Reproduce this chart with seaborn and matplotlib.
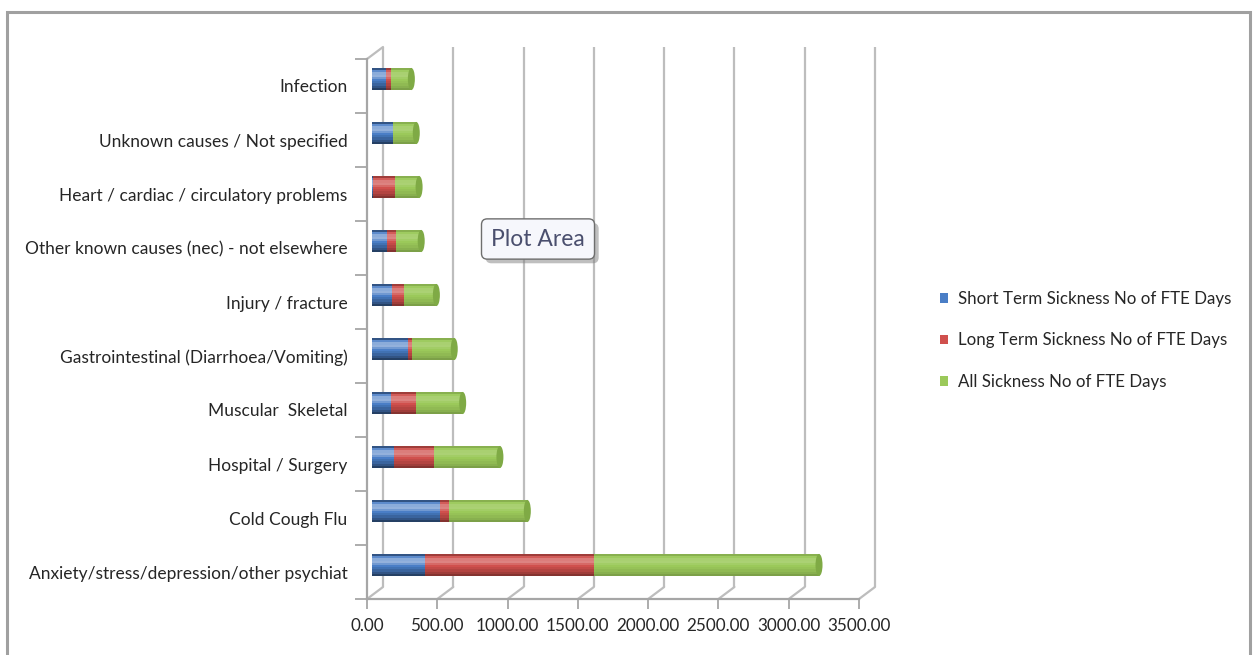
import matplotlib

matplotlib.use("Agg")
import matplotlib.pyplot as plt
from matplotlib import patheffects, transforms
from matplotlib.patches import Ellipse, Patch, Rectangle
import pandas as pd
import seaborn as sns


# ======================== データ ========================
CATEGORIES = [
    "Infection",
    "Unknown causes / Not specified",
    "Heart / cardiac / circulatory problems",
    "Other known causes (nec) - not elsewhere",
    "Injury / fracture",
    "Gastrointestinal (Diarrhoea/Vomiting)",
    "Muscular  Skeletal",
    "Hospital / Surgery",
    "Cold Cough Flu",
    "Anxiety/stress/depression/other psychiat",
]
SHORT_TERM = [100, 150, 10, 105, 140, 255, 135, 155, 485, 380]
LONG_TERM = [35, 0, 155, 65, 88, 30, 180, 285, 60, 1200]
ALL_SICKNESS = [145, 165, 170, 180, 230, 300, 330, 470, 560, 1600]
SERIES_LABELS = [
    "Short Term Sickness No of FTE Days",
    "Long Term Sickness No of FTE Days",
    "All Sickness No of FTE Days",
]
X_TICKS = [0, 500, 1000, 1500, 2000, 2500, 3000, 3500]

BLUE = "#4A7EC6"
RED = "#D0504D"
GREEN = "#9BC95A"
GREEN_CAP = "#7FAA45"
AXIS_GRAY = "#A6A6A6"
GRID_GRAY = "#BDBDBD"
TEXT_COLOR = "#262626"

W, H, DPI = 1253, 655, 100


def fx(px):
    return px / W


def fy(py):
    return 1 - py / H


# ======================== 描画設定 ========================
sns.set_theme(style="white")
plt.rcParams["font.family"] = ["Lato", "DejaVu Sans"]
plt.rcParams["text.color"] = TEXT_COLOR
plt.rcParams["xtick.labelcolor"] = TEXT_COLOR
plt.rcParams["ytick.labelcolor"] = TEXT_COLOR

fig = plt.figure(figsize=(W / DPI, H / DPI), dpi=DPI)
fig.patch.set_facecolor("white")

# 外枠
fig.patches.append(
    Rectangle(
        (fx(7), fy(662)),
        fx(1250) - fx(7),
        fy(12) - fy(662),
        transform=fig.transFigure,
        fill=False,
        edgecolor="#A0A0A0",
        linewidth=2.2,
    )
)

ax = fig.add_axes([fx(367), fy(599), fx(859) - fx(367), fy(59) - fy(599)])
ax.set_facecolor("none")

df = pd.DataFrame(
    {
        "cat": CATEGORIES,
        "short": SHORT_TERM,
        "long": LONG_TERM,
        "all": ALL_SICKNESS,
    }
)
df["cum_long"] = df["short"] + df["long"]
df["cum_all"] = df["cum_long"] + df["all"]

for col, color in [("cum_all", GREEN), ("cum_long", RED), ("short", BLUE)]:
    sns.barplot(
        data=df,
        x=col,
        y="cat",
        order=CATEGORIES,
        color=color,
        saturation=1,
        width=0.41,
        orient="h",
        errorbar=None,
        ax=ax,
        zorder=3,
    )

# 3D風の奥行きずらしと円柱風の陰影
bar_offset = transforms.ScaledTranslation(5 / DPI, 7 / DPI, fig.dpi_scale_trans)
bar_trans = ax.transData + bar_offset
px_per_unit = (fx(859) - fx(367)) * W / 3500
shades = [
    ("black", 0.12), ("white", 0.04), ("white", 0.14), ("white", 0.16), ("white", 0.08),
    ("white", 0.0), ("black", 0.03), ("black", 0.07), ("black", 0.12), ("black", 0.2),
]
bars = list(ax.patches)
for i, p in enumerate(bars):
    p.set_transform(bar_trans)
    p.set_clip_on(False)
    p.set_edgecolor("none")
    x, y, w, h = p.get_x(), p.get_y(), p.get_width(), p.get_height()
    if i < len(CATEGORIES):
        # 合計バー右端の丸いキャップ
        ax.add_patch(
            Ellipse(
                (x + w, y + h / 2),
                7 / px_per_unit,
                h,
                facecolor=GREEN_CAP,
                edgecolor="none",
                transform=bar_trans,
                zorder=5,
                clip_on=False,
            )
        )
    step = 1 / len(shades)
    for k, (shade, alpha) in enumerate(shades):
        if alpha == 0:
            continue
        ax.add_patch(
            Rectangle(
                (x, y + h * k * step),
                w,
                h * step,
                facecolor=shade,
                alpha=alpha,
                edgecolor="none",
                transform=bar_trans,
                zorder=4,
                clip_on=False,
            )
        )

# 奥の壁のグリッド線
grid_offset = transforms.ScaledTranslation(16 / DPI, 12 / DPI, fig.dpi_scale_trans)
ax.vlines(
    X_TICKS,
    0,
    1,
    transform=ax.get_xaxis_transform() + grid_offset,
    colors=GRID_GRAY,
    linewidth=1.6,
    zorder=1,
    clip_on=False,
)
for xv, yv in [(xv, 0) for xv in X_TICKS] + [(0, 1)]:
    ax.annotate(
        "",
        xy=(xv, yv),
        xycoords=ax.get_xaxis_transform(),
        xytext=(16 * 0.72, 12 * 0.72),
        textcoords="offset points",
        arrowprops=dict(arrowstyle="-", color=GRID_GRAY, lw=1.6, shrinkA=0, shrinkB=0),
        annotation_clip=False,
        zorder=1,
    )

# 軸
ax.set_xlim(0, 3500)
ax.set_ylim(len(CATEGORIES) - 0.5, -0.5)
ax.set_xticks(X_TICKS)
ax.set_xticklabels([f"{v:.2f}" for v in X_TICKS])
ax.set_yticks(range(len(CATEGORIES)))
ax.set_yticklabels(CATEGORIES)
ax.set_yticks([i - 0.5 for i in range(len(CATEGORIES) + 1)], minor=True)
ax.set_xlabel("")
ax.set_ylabel("")
ax.tick_params(axis="x", length=7, width=1.3, color=AXIS_GRAY, direction="out", pad=7, labelsize=12.3, bottom=True)
ax.tick_params(axis="y", which="major", length=0, pad=14, labelsize=12.5, left=True)
ax.tick_params(axis="y", which="minor", length=9, width=1.3, color=AXIS_GRAY, direction="out", left=True)
for side in ["top", "right"]:
    ax.spines[side].set_visible(False)
for side in ["left", "bottom"]:
    ax.spines[side].set_color(AXIS_GRAY)
    ax.spines[side].set_linewidth(1.6)
ax.grid(False)

# 「Plot Area」ツールチップ
tip = fig.text(
    fx(538),
    fy(239),
    "Plot Area",
    ha="center",
    va="center",
    fontsize=16.5,
    color="#4A4F6E",
    bbox=dict(boxstyle="round,pad=0.42,rounding_size=0.25", fc="#F6F7FC", ec="#6E6E6E", lw=1.0),
    zorder=10,
)
tip.get_bbox_patch().set_path_effects(
    [
        patheffects.SimplePatchShadow(offset=(3, -3), shadow_rgbFace="#808080", alpha=0.5),
        patheffects.Normal(),
    ]
)

# 凡例
handles = [Patch(facecolor=c, edgecolor="none") for c in [BLUE, RED, GREEN]]
fig.legend(
    handles,
    SERIES_LABELS,
    loc="upper left",
    bbox_to_anchor=(fx(940), fy(291)),
    frameon=False,
    fontsize=12.2,
    handlelength=0.5,
    handleheight=0.5,
    handletextpad=0.55,
    labelspacing=1.5,
    borderaxespad=0,
    borderpad=0,
)

fig.savefig("out.png", dpi=DPI)
plt.close(fig)
